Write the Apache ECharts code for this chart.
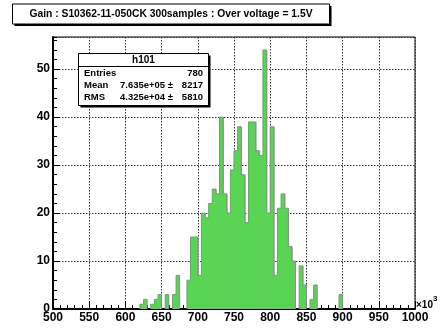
<!DOCTYPE html>
<html>
<head>
<meta charset="utf-8">
<script src="https://cdn.jsdelivr.net/npm/echarts@6/dist/echarts.min.js"></script>
<style>
html,body{margin:0;padding:0;background:#fff;}
#c{width:445px;height:329px;}
</style>
</head>
<body>
<div id="c"></div>
<script>
// Histogram h101: bin low edges (x10^3) and counts, bin width 5 (x10^3)
const binLow = [620, 625, 635, 640, 645, 655, 665, 670, 685, 690, 695, 700, 705, 710, 715, 720, 725, 730, 735, 740, 745, 750, 755, 760, 765, 770, 775, 780, 785, 790, 795, 800, 805, 810, 815, 820, 825, 830, 840, 845, 855, 860, 895];
const counts = [1, 2, 1, 2, 3, 3, 3, 7, 6, 15, 15, 7, 20, 19, 22, 25, 24, 40, 24, 20, 29, 33, 38, 28, 18, 39, 39, 33, 32, 54, 20, 38, 7, 21, 24, 21, 13, 10, 9, 5, 2, 5, 3];
const binWidth = 5;
const xTicks = [500, 550, 600, 650, 700, 750, 800, 850, 900, 950, 1000];
const yTicks = [0, 10, 20, 30, 40, 50];
const titleText = 'Gain : S10362-11-050CK 300samples : Over voltage = 1.5V';
const statsName = 'h101';
const statsRows = [
  ['Entries', '', '780'],
  ['Mean', '7.635e+05 \u00b1', '8217'],
  ['RMS', '4.325e+04 \u00b1', '5810']
];

const FONT = '"Liberation Sans", Arial, Helvetica, sans-serif';
const chart = echarts.init(document.getElementById('c'), null, {renderer: 'canvas'});

const data = binLow.map((lo, i) => [lo, lo + binWidth, counts[i]]);
function valAt(x) {
  const i = binLow.indexOf(x);
  return i >= 0 ? counts[i] : 0;
}

const gridDef = {left: 53, right: 30, top: 37, bottom: 20};
const dotted = {color: '#333', width: 1, type: [1.5, 1.5]};

const option = {
  animation: false,
  backgroundColor: '#fff',
  grid: Object.assign({show: true, borderColor: '#000', borderWidth: 1, backgroundColor: '#fff'}, gridDef),
  xAxis: {
    type: 'value', min: xTicks[0], max: xTicks[xTicks.length - 1], interval: 50,
    axisLine: {show: true, onZero: false, lineStyle: {color: '#000', width: 2}},
    axisTick: {show: true, inside: true, length: 8, lineStyle: {color: '#000', width: 1}},
    minorTick: {show: true, splitNumber: 5, length: 4, lineStyle: {color: '#000', width: 1}},
    splitLine: {show: true, lineStyle: dotted},
    axisLabel: {color: '#000', fontFamily: FONT, fontWeight: 'bold', fontSize: 12, margin: 3,
      formatter: v => xTicks.indexOf(v) >= 0 ? String(v) : ''}
  },
  yAxis: [{
    type: 'value', min: 0, max: 56.7, interval: 10,
    axisLine: {show: true, onZero: false, lineStyle: {color: '#000', width: 2}},
    axisTick: {show: true, inside: true, length: 7, lineStyle: {color: '#000', width: 1}},
    splitLine: {show: true, lineStyle: dotted},
    axisLabel: {color: '#000', fontFamily: FONT, fontWeight: 'bold', fontSize: 12, margin: 3,
      showMaxLabel: false,
      formatter: v => yTicks.indexOf(v) >= 0 ? String(v) : ''}
  }, {
    type: 'value', min: 0, max: 56.7, interval: 2, position: 'left',
    axisLine: {show: false},
    axisTick: {show: true, inside: true, length: 4, lineStyle: {color: '#000', width: 1}},
    splitLine: {show: false},
    axisLabel: {show: false}
  }],
  series: [{
    type: 'custom',
    xAxisIndex: 0, yAxisIndex: 0,
    data: data,
    clip: true,
    renderItem: function (params, api) {
      const x0 = api.value(0), x1 = api.value(1), v = api.value(2);
      const p0 = api.coord([x0, v]);
      const p1 = api.coord([x1, 0]);
      const prev = valAt(x0 - binWidth);
      const next = valAt(x1);
      const pts = [api.coord([x0, prev]), api.coord([x0, v]), api.coord([x1, v])];
      if (next === 0) pts.push(api.coord([x1, 0]));
      const extra = next > 0 ? 0.8 : 0;
      return {
        type: 'group',
        children: [{
          type: 'rect',
          shape: {x: p0[0], y: p0[1], width: p1[0] - p0[0] + extra, height: p1[1] - p0[1]},
          style: {fill: '#59d454'}
        }, {
          type: 'polyline',
          shape: {points: pts},
          style: {fill: null, stroke: '#8c8c8c', lineWidth: 1},
          z2: 10
        }]
      };
    }
  }],
  graphic: [
    // title box
    {type: 'rect', shape: {x: 14.5, y: 6, width: 317, height: 20}, style: {fill: '#000'}, z: 100},
    {type: 'rect', shape: {x: 12.5, y: 4, width: 317, height: 20}, style: {fill: '#fff', stroke: '#000', lineWidth: 1}, z: 101},
    {type: 'text', x: 171, y: 14.5, z: 102,
      style: {text: titleText, font: 'bold 10.3px ' + FONT, fill: '#000', align: 'center', verticalAlign: 'middle'}},
    // stats box
    {type: 'rect', shape: {x: 80.5, y: 55.5, width: 130, height: 52}, style: {fill: '#000'}, z: 100},
    {type: 'rect', shape: {x: 78.5, y: 53.5, width: 130, height: 52}, style: {fill: '#fff', stroke: '#000', lineWidth: 1}, z: 101},
    {type: 'line', shape: {x1: 78.5, y1: 66.5, x2: 208.5, y2: 66.5}, style: {stroke: '#000', lineWidth: 1}, z: 102},
    {type: 'text', x: 143.5, y: 60.5, z: 102,
      style: {text: statsName, font: 'bold 10px ' + FONT, fill: '#000', align: 'center', verticalAlign: 'middle'}},
    ...statsRows.flatMap((r, i) => {
      const y = 73 + i * 12.3;
      return [
        {type: 'text', x: 84, y: y, z: 102, style: {text: r[0], font: 'bold 9.5px ' + FONT, fill: '#000', align: 'left', verticalAlign: 'middle'}},
        {type: 'text', x: 173, y: y, z: 102, style: {text: r[1], font: 'bold 9.5px ' + FONT, fill: '#000', align: 'right', verticalAlign: 'middle'}},
        {type: 'text', x: 203, y: y, z: 102, style: {text: r[2], font: 'bold 9.5px ' + FONT, fill: '#000', align: 'right', verticalAlign: 'middle'}}
      ];
    }),
    // x10^3 exponent
    {type: 'text', x: 416, y: 305, z: 102,
      style: {text: '\u00d710', font: 'bold 10px ' + FONT, fill: '#000', align: 'left', verticalAlign: 'middle'}},
    {type: 'text', x: 433, y: 299, z: 102,
      style: {text: '3', font: 'bold 8px ' + FONT, fill: '#000', align: 'left', verticalAlign: 'middle'}}
  ]
};
chart.setOption(option);
</script>
</body>
</html>
